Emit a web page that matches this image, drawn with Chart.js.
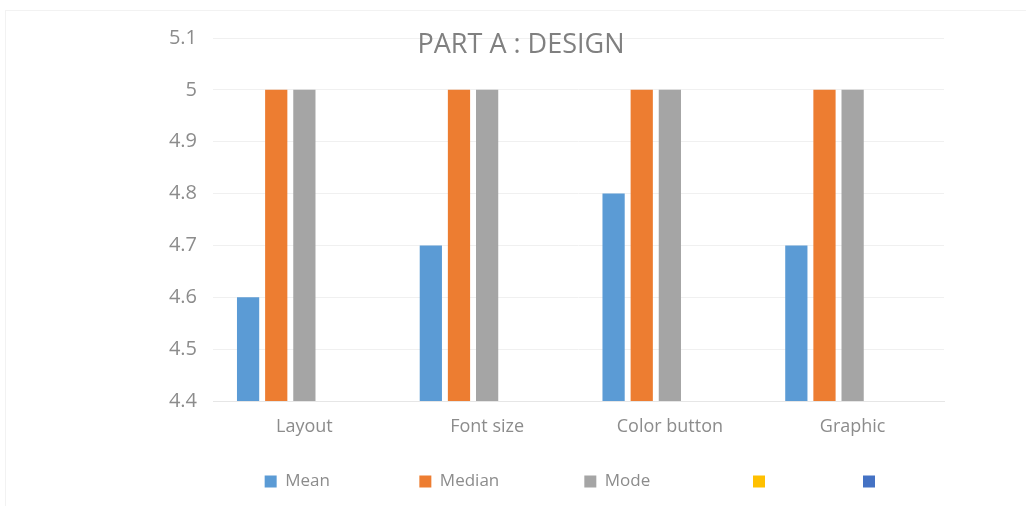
<!DOCTYPE html>
<html>
<head>
<meta charset="utf-8">
<script src="https://cdn.jsdelivr.net/npm/chart.js@4.4.0/dist/chart.umd.min.js"></script>
<style>
	html, body { margin: 0; padding: 0; background: #fff; }
	#wrap { position: relative; width: 1026px; height: 506px; overflow: hidden; }
	#frame { position: absolute; left: 5px; top: 10px; width: 1030px; height: 520px; border: 1px solid #f2f2f2; box-sizing: border-box; }
	canvas { position: absolute; left: 0; top: 0; }
</style>
</head>
<body>
<div id="wrap">
	<div id="frame"></div>
	<canvas id="myChart" width="1026" height="506"></canvas>
</div>
<script>
var chartTitle = "PART A : DESIGN";
var categories = ["Layout", "Font size", "Color button", "Graphic"];
var seriesNames = ["Mean", "Median", "Mode", "", ""];
var meanValues = [4.6, 4.7, 4.8, 4.7];
var medianValues = [5, 5, 5, 5];
var modeValues = [5, 5, 5, 5];
var emptyValues = [null, null, null, null];
var colors = ["#5b9bd5", "#ed7d31", "#a5a5a5", "#ffc000", "#4472c4"];

var fontName = "'Open Sans', 'Noto Sans', sans-serif";
var textColor = "#8c8c8c";
// spaces after each legend entry, to spread them like the original
var legendGaps = [18, 17, 21, 18, 2];

// title sits over the top of the plot, like the original
var titlePlugin = {
	id: "overTitle",
	afterDraw: (chart) => {
		var ctx = chart.ctx;
		ctx.save();
		ctx.font = "27px " + fontName;
		ctx.fillStyle = "#808080";
		ctx.textAlign = "center";
		ctx.textBaseline = "middle";
		ctx.fillText(chartTitle, 521, 45);
		ctx.restore();
	},
};

var allValues = [meanValues, medianValues, modeValues, emptyValues, emptyValues];
var datasets = seriesNames.map((name, i) => ({
	label: name,
	data: allValues[i],
	backgroundColor: colors[i],
	borderWidth: 0,
	categoryPercentage: 0.77,
	barPercentage: 0.79,
}));

const ctx = document.getElementById("myChart").getContext("2d");
var chart = new Chart(ctx, {
	type: "bar",
	data: { labels: categories, datasets: datasets },
	plugins: [titlePlugin],
	options: {
		responsive: false,
		animation: false,
		layout: { padding: { left: 153, right: 82, top: 38, bottom: 6 } },
		plugins: {
			title: { display: false },
			tooltip: { enabled: false },
			legend: {
				position: "bottom",
				fullSize: false,
				labels: {
					boxWidth: 12,
					boxHeight: 12,
					padding: 10,
					color: textColor,
					font: { family: fontName, size: 17 },
					generateLabels: (c) => {
						var items = Chart.defaults.plugins.legend.labels.generateLabels(c);
						items.forEach((it, i) => (it.text = it.text + " ".repeat(legendGaps[i])));
						return items;
					},
				},
			},
		},
		scales: {
			x: {
				grid: { display: false, drawTicks: false },
				border: { color: "#e6e6e6" },
				ticks: { color: textColor, font: { family: fontName, size: 18 }, padding: 15 },
				afterFit: (s) => { s.height = 62; },
			},
			y: {
				min: 4.4,
				max: 5.1,
				grid: { color: "#f0f0f0", drawTicks: false },
				border: { display: false },
				ticks: {
					stepSize: 0.1,
					color: textColor,
					font: { family: fontName, size: 20 },
					padding: 16,
					callback: (v) => parseFloat(v.toFixed(1)) + "",
				},
				afterFit: (s) => { s.width = 60; },
			},
		},
	},
});
</script>
</body>
</html>
